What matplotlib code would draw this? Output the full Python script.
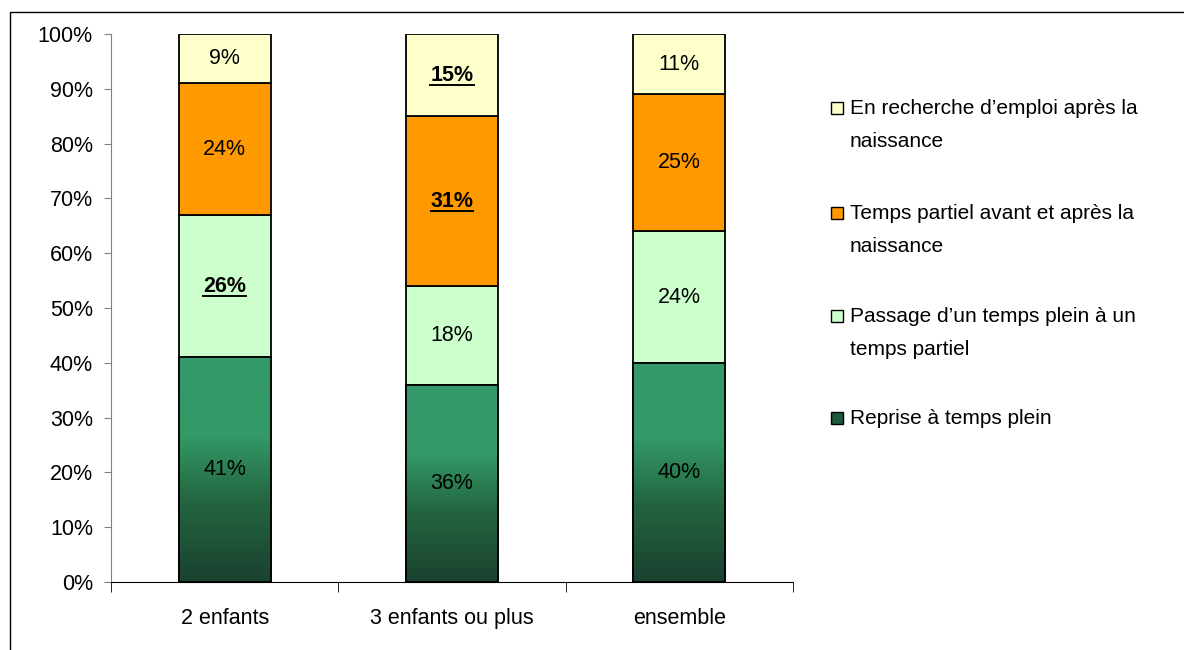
import numpy as np
import matplotlib
matplotlib.use("Agg")
import matplotlib.pyplot as plt
from matplotlib.patches import Rectangle
from matplotlib.colors import LinearSegmentedColormap
from matplotlib.lines import Line2D

plt.rcParams['font.family'] = ['Liberation Sans', 'DejaVu Sans']

categories = ["2 enfants", "3 enfants ou plus", "ensemble"]
series_names = [
    "Reprise à temps plein",
    "Passage d\u2019un temps plein à un\ntemps partiel",
    "Temps partiel avant et après la\nnaissance",
    "En recherche d\u2019emploi après la\nnaissance",
]
reprise = [41, 36, 40]
passage = [26, 18, 24]
partiel = [24, 31, 25]
recherche = [9, 15, 11]
# labels shown bold and underlined: (series index, category index)
highlighted = [(1, 0), (2, 1), (3, 1)]

series_values = [reprise, passage, partiel, recherche]
colors = ["#2f8a5e", "#CCFFCC", "#FF9900", "#FFFFCC"]
ytick_labels = [f"{v}%" for v in range(0, 101, 10)]

FS = 15.5
W, H = 1184, 650
fig = plt.figure(figsize=(W / 100, H / 100), dpi=100)
ax = fig.add_axes([111 / W, 1 - 582 / H, (793 - 111) / W, (582 - 34) / H])

x = np.arange(len(categories))
width = 0.405
green_cmap = LinearSegmentedColormap.from_list(
    "grn", [(0, "#1a4230"), (0.35, "#23643f"), (0.65, "#339966"), (1, "#35996a")])

bottom = np.zeros(len(categories))
value_texts = []
for si, vals in enumerate(series_values):
    vals = np.array(vals, dtype=float)
    bars = ax.bar(x, vals, width, bottom=bottom, color=colors[si],
                  edgecolor="black", linewidth=1.3, zorder=2)
    for ci, (b, v) in enumerate(zip(bars, vals)):
        if si == 0:
            # vertical gradient fill clipped to the bar
            grad = np.linspace(0, 1, 256).reshape(-1, 1)
            im = ax.imshow(grad, cmap=green_cmap, origin="lower", aspect="auto",
                           extent=[b.get_x(), b.get_x() + b.get_width(),
                                   b.get_y(), b.get_y() + b.get_height()],
                           zorder=2.5)
            im.set_clip_path(b)
            frame = Rectangle((b.get_x(), b.get_y()), b.get_width(), b.get_height(),
                              fill=False, edgecolor="black", linewidth=1.3, zorder=3)
            ax.add_patch(frame)
        bold = (si, ci) in highlighted
        t = ax.text(b.get_x() + b.get_width() / 2, bottom[ci] + v / 2,
                    f"{int(v)}%", ha="center", va="center", fontsize=FS,
                    fontweight="bold" if bold else "normal", color="black", zorder=4)
        if bold:
            value_texts.append(t)
    bottom += vals

ax.set_xlim(-0.5, len(categories) - 0.5)
ax.set_ylim(0, 100)
ax.set_yticks(range(0, 101, 10))
ax.set_yticklabels(ytick_labels, fontsize=FS)
ax.set_xticks(x)
ax.set_xticklabels(categories, fontsize=FS)
ax.tick_params(axis="x", length=0, pad=19)
ax.set_xticks(np.arange(-0.5, len(categories)), minor=True)
ax.tick_params(axis="x", which="minor", length=7, direction="out", color="black")
ax.tick_params(axis="y", length=5, direction="out", color="#808080", pad=8)
for s in ["top", "right"]:
    ax.spines[s].set_visible(False)
ax.spines["left"].set_color("#808080")
ax.spines["bottom"].set_color("black")
ax.spines["bottom"].set_zorder(5)

# legend, drawn top entry first (baseline of first line in pixels)
leg_base = [115, 220, 323, 425]
for k, si in enumerate([3, 2, 1, 0]):
    yb = leg_base[k]
    fc = colors[si] if si != 0 else "#1f5a3d"
    fig.patches.append(Rectangle((831 / W, 1 - (yb - 1) / H), 12 / W, 12 / H,
                                 transform=fig.transFigure, facecolor=fc,
                                 edgecolor="black", linewidth=1.0))
    fig.text(850 / W, 1 - (yb - 16) / H, series_names[si], fontsize=15,
             va="top", ha="left", linespacing=1.95)

# outer frame
fig.patches.append(Rectangle((10 / W, -0.1), 1.2, 1 - 12 / H + 0.1,
                             transform=fig.transFigure, fill=False,
                             edgecolor="black", linewidth=1.0))

# underline the highlighted values
fig.canvas.draw()
renderer = fig.canvas.get_renderer()
for t in value_texts:
    bb = t.get_window_extent(renderer)
    yline = bb.y0 + 1
    fig.add_artist(Line2D([bb.x0 / W, bb.x1 / W], [yline / H, yline / H],
                          transform=fig.transFigure, color="black", linewidth=1.4))

fig.savefig("out.png", dpi=100)
